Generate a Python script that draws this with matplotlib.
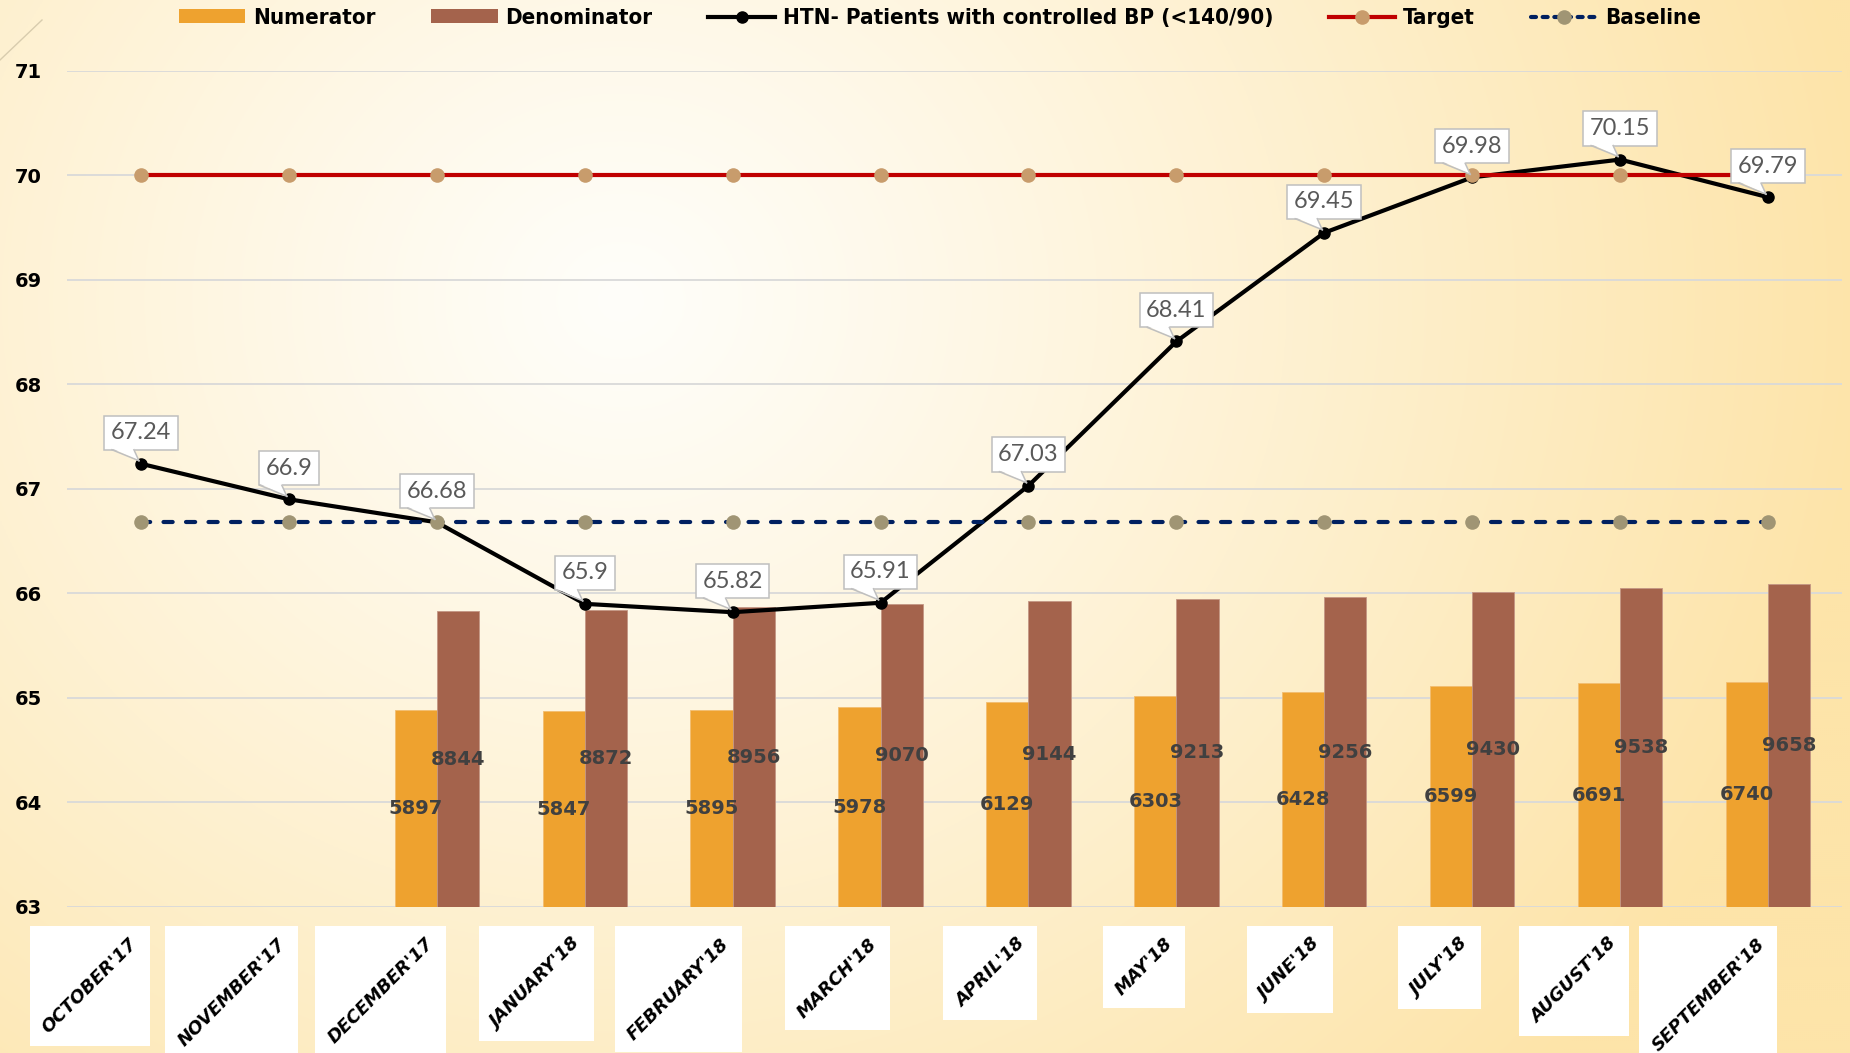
import numpy as np
import matplotlib
matplotlib.use("Agg")
import matplotlib.pyplot as plt
import matplotlib.transforms as mtransforms
from matplotlib.patches import Rectangle, Polygon, Patch
from matplotlib.lines import Line2D
from matplotlib.colors import to_rgb
from matplotlib.font_manager import FontProperties, fontManager

# ---- data -------------------------------------------------------------
months = ["OCTOBER'17", "NOVEMBER'17", "DECEMBER'17", "JANUARY'18",
          "FEBRUARY'18", "MARCH'18", "APRIL'18", "MAY'18", "JUNE'18",
          "JULY'18", "AUGUST'18", "SEPTEMBER'18"]
numerator = [np.nan, np.nan, 5897, 5847, 5895, 5978, 6129, 6303, 6428,
             6599, 6691, 6740]
denominator = [np.nan, np.nan, 8844, 8872, 8956, 9070, 9144, 9213, 9256,
               9430, 9538, 9658]
htn_controlled = [67.24, 66.9, 66.68, 65.9, 65.82, 65.91, 67.03, 68.41,
                  69.45, 69.98, 70.15, 69.79]
target = [70, 70, 70, 70, 70, 70, 70, 70, 70, 70, 70, 70]
baseline = [66.68, 66.68, 66.68, 66.68, 66.68, 66.68, 66.68, 66.68,
            66.68, 66.68, 66.68, 66.68]
pct_ticks = [63, 64, 65, 66, 67, 68, 69, 70, 71]

legend_labels = ["Numerator", "Denominator",
                 "HTN- Patients with controlled BP (<140/90)",
                 "Target", "Baseline"]

# ---- styling ----------------------------------------------------------
C_NUM = "#eea22f"
C_DEN = "#a4634c"
C_TARGET = "#c00000"
C_TARGET_MK = "#c89c6c"
C_BASE = "#002060"
C_BASE_MK = "#a09574"

# narrow bold face for the legend, if one is available
names = {f.name for f in fontManager.ttflist}
if "Liberation Sans Narrow" in names:
    legend_font = FontProperties(family="Liberation Sans Narrow",
                                 weight="bold", size=19)
else:
    legend_font = FontProperties(family="DejaVu Sans", stretch="condensed",
                                 weight="bold", size=16)

W, H, DPI = 1850, 1053, 100
fig = plt.figure(figsize=(W / DPI, H / DPI), dpi=DPI)

# soft radial wash behind the chart
bg = fig.add_axes([0, 0, 1, 1], zorder=-10)
yy, xx = np.mgrid[0:H:2, 0:W:2]
d = np.hypot(xx - 620, (yy - 300) * 1.1) / 1250.0
t = np.clip(d, 0, 1) ** 1.1
c0 = np.array(to_rgb("#fffefa"))
c1 = np.array(to_rgb("#fde4a9"))
img = c0 * (1 - t[..., None]) + c1 * t[..., None]
bg.imshow(img, aspect="auto", extent=[0, 1, 0, 1], origin="upper")
bg.axis("off")

fig.add_artist(Line2D([0, 42 / W], [1 - 60 / H, 1 - 20 / H],
                      transform=fig.transFigure, color="#d8ccae", lw=1.0))

x = np.arange(len(months))

# primary axes: percentage scale, gridlines and tick labels
ax = fig.add_axes([67 / W, 1 - 907 / H, (1842 - 67) / W, (907 - 70.7) / H])
ax.patch.set_visible(False)
ax.set_xlim(-0.5, len(months) - 0.5)
ax.set_ylim(63, 71)
ax.set_yticks(pct_ticks)
ax.set_yticklabels([str(v) for v in pct_ticks], fontfamily="DejaVu Sans",
                   fontweight="bold", fontsize=14, color="black")
ax.grid(axis="y", color="#d9d9d9", lw=1.3)
ax.set_axisbelow(True)
for s in ax.spines.values():
    s.set_visible(False)
ax.tick_params(axis="both", length=0)
ax.tick_params(axis="y", pad=18)
ax.tick_params(axis="x", pad=20)
ax.set_xticks(x)
ax.set_xticklabels(months, rotation=45, ha="right", fontfamily="DejaVu Sans",
                   fontweight="bold", fontstyle="oblique", fontsize=13,
                   color="black")
ax.set_zorder(1)

# secondary axes: patient counts as bars
axb = ax.twinx()
axb.set_ylim(0, 25000)
axb.set_yticks([])
for s in axb.spines.values():
    s.set_visible(False)
axb.set_zorder(2)
bw = 0.285
num_arr = np.array(numerator, dtype=float)
den_arr = np.array(denominator, dtype=float)
axb.bar(x - bw / 2, num_arr, width=bw, color=C_NUM, edgecolor="#f2bd70",
        lw=0.6, zorder=2)
axb.bar(x + bw / 2, den_arr, width=bw, color=C_DEN, edgecolor="#c49684",
        lw=0.6, zorder=2)
for xi, n, dn in zip(x, num_arr, den_arr):
    if not np.isnan(n):
        axb.text(xi - bw / 2, n / 2, f"{int(n)}", ha="center", va="center",
                 fontfamily="DejaVu Sans", fontweight="bold", fontsize=14,
                 color="#404040", zorder=4)
    if not np.isnan(dn):
        axb.text(xi + bw / 2, dn / 2, f"{int(dn)}", ha="center", va="center",
                 fontfamily="DejaVu Sans", fontweight="bold", fontsize=14,
                 color="#404040", zorder=4)

# third axes: rate lines on the percentage scale
axl = ax.twinx()
axl.set_ylim(63, 71)
axl.set_yticks([])
for s in axl.spines.values():
    s.set_visible(False)
axl.set_zorder(3)
axl.plot(x, htn_controlled, color="black", lw=3.0, marker="o", ms=8,
         solid_joinstyle="round", zorder=2)
axl.plot(x, target, color=C_TARGET, lw=3.0, marker="o", ms=10.5,
         mfc=C_TARGET_MK, mec="none", zorder=3)
axl.plot(x, baseline, color=C_BASE, lw=3.0, ls=(0, (2.2, 3.2)),
         dash_capstyle="round", marker="o", ms=10.5, mfc=C_BASE_MK,
         mec="none", zorder=3)

# value callouts above each rate point
fs_call = 17
pad_frac = 0.28
pad_px = pad_frac * fs_call * DPI / 72
for xi, v in zip(x, htn_controlled):
    axl.annotate(f"{v:g}", xy=(xi, v), xytext=(0, 14 + pad_px),
                 textcoords="offset pixels", ha="center", va="bottom",
                 fontfamily="Lato", fontsize=fs_call, color="#595959",
                 bbox=dict(boxstyle=f"square,pad={pad_frac}", fc="white",
                           ec="#bfbfbf", lw=1.1),
                 zorder=6, annotation_clip=False)
    tr = mtransforms.ScaledTranslation(xi, v, axl.transData)
    tail = Polygon([(-29, 15.5), (-7, 15.5), (-2, 3)], closed=True,
                   fc="white", ec="none", transform=tr, zorder=7,
                   clip_on=False)
    axl.add_artist(tail)
    for bx in (-29, -7):
        axl.add_artist(Line2D([bx, -2], [14, 3], color="#bfbfbf", lw=1.1,
                              transform=tr, zorder=7, clip_on=False))

# legend across the top
handles = [
    Patch(facecolor=C_NUM, edgecolor="none"),
    Patch(facecolor=C_DEN, edgecolor="none"),
    Line2D([], [], color="black", lw=3.0, marker="o", ms=8),
    Line2D([], [], color=C_TARGET, lw=3.0, marker="o", ms=10.5,
           mfc=C_TARGET_MK, mec="none"),
    Line2D([], [], color=C_BASE, lw=3.0, ls=(0, (1.2, 1.6)),
           dash_capstyle="round", marker="o", ms=10.5, mfc=C_BASE_MK,
           mec="none"),
]
fig.legend(handles, legend_labels, loc="center",
           bbox_to_anchor=(0.508, 1 - 18 / H), ncol=5, frameon=False,
           prop=legend_font, handlelength=3.0, handleheight=0.6,
           handletextpad=0.35, columnspacing=2.5, borderpad=0.1)

# white panels behind each month label
fig.canvas.draw()
renderer = fig.canvas.get_renderer()
for lab in ax.get_xticklabels():
    bb = lab.get_window_extent(renderer)
    p = 9
    fig.add_artist(Rectangle((bb.x0 - p, bb.y0 - p), bb.width + 2 * p,
                             bb.height + 2 * p, transform=None,
                             fc="white", ec="none", zorder=0.5))

fig.savefig("out.png", dpi=DPI)
